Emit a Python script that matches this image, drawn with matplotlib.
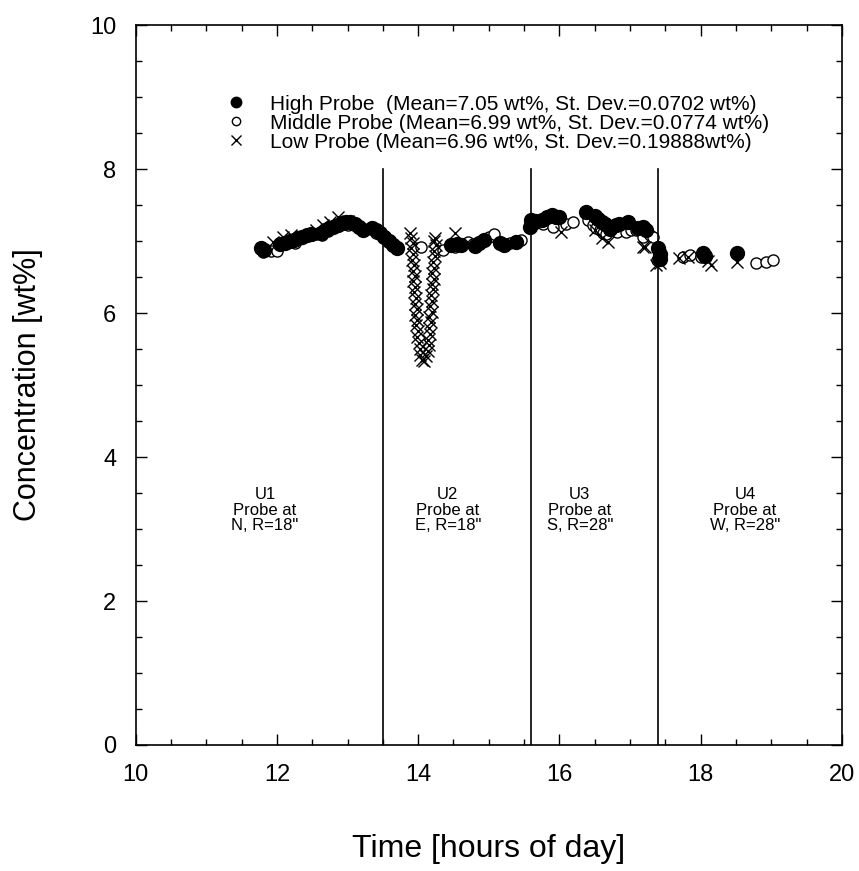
import matplotlib.pyplot as plt

plt.rcParams['font.family'] = ['Liberation Sans', 'DejaVu Sans']

# sampling times [hours of day] and concentrations [wt%]
high_t = [11.78, 11.82, 12.05, 12.12, 12.18, 12.24, 12.30, 12.36, 12.42, 12.48,
          12.62, 12.68, 12.74, 12.80, 12.86, 12.92, 12.98, 13.04, 13.10, 13.16,
          13.22, 13.34, 13.40, 13.46, 13.52, 13.58, 13.64, 13.70,
          14.47, 14.55, 14.60, 14.80, 14.86, 14.93, 15.16, 15.22, 15.39,
          15.58, 15.60, 15.62, 15.66, 15.75, 15.82, 15.89, 15.95, 16.00,
          16.38, 16.50, 16.55, 16.60, 16.64, 16.71, 16.80, 16.85, 16.97,
          17.12, 17.18, 17.23,
          17.40, 17.42, 17.43, 18.04, 18.06, 18.51]
high_c = [6.90, 6.88, 6.96, 6.98, 7.00, 7.02, 7.05, 7.06, 7.08, 7.10,
          7.12, 7.15, 7.18, 7.20, 7.22, 7.25, 7.27, 7.26, 7.24, 7.20,
          7.16, 7.18, 7.15, 7.12, 7.06, 7.00, 6.94, 6.90,
          6.94, 6.96, 6.95, 6.93, 6.97, 7.01, 6.98, 6.95, 6.99,
          7.20, 7.30, 7.25, 7.28, 7.30, 7.34, 7.36, 7.33, 7.34,
          7.41, 7.35, 7.31, 7.27, 7.24, 7.17, 7.22, 7.24, 7.27,
          7.18, 7.20, 7.15,
          6.90, 6.82, 6.75, 6.84, 6.79, 6.83]

mid_t = [11.80, 11.92, 12.00, 12.25, 12.50, 12.56, 12.64, 12.72, 13.00, 13.20, 13.40,
         14.04, 14.35, 14.52, 14.70, 14.78, 15.01, 15.08, 15.30, 15.46,
         15.77, 15.91, 16.10, 16.19, 16.40, 16.47, 16.52, 16.57, 16.62, 16.66,
         16.81, 16.95, 17.02, 17.09, 17.18, 17.28,
         17.33, 17.38, 17.75, 17.85, 18.00, 18.79, 18.93, 19.02]
mid_c = [6.85, 6.86, 6.87, 6.98, 7.08, 7.10, 7.08, 7.14, 7.22, 7.16, 7.12,
         6.92, 6.88, 6.92, 6.99, 6.96, 7.06, 7.10, 6.98, 7.01,
         7.24, 7.20, 7.24, 7.27, 7.29, 7.22, 7.18, 7.15, 7.12, 7.10,
         7.13, 7.13, 7.16, 7.15, 7.06, 7.08,
         7.06, 6.74, 6.78, 6.81, 6.78, 6.69, 6.71, 6.74]

low_t = [11.95, 12.08, 12.20, 12.55, 12.65, 12.75, 12.86, 13.00, 13.25,
         13.88, 13.90, 13.92, 13.90, 13.93, 13.91, 13.94, 13.92, 13.95, 13.93,
         13.96, 13.94, 13.97, 13.95, 13.98, 13.96, 13.99, 13.97, 14.00, 13.98,
         14.01, 14.02, 14.03, 14.05,
         14.08, 14.11, 14.14, 14.16, 14.14, 14.17, 14.15, 14.18, 14.16, 14.19,
         14.17, 14.20, 14.18, 14.21, 14.19, 14.22, 14.20, 14.23, 14.21, 14.24,
         14.22, 14.25, 14.23, 14.24,
         14.52,
         16.03, 16.50, 16.60, 16.69, 17.18,
         17.21, 17.37, 17.42, 17.70, 17.82, 18.10, 18.15, 18.51]
low_c = [6.99, 7.06, 7.08, 7.15, 7.22, 7.27, 7.33, 7.28, 7.20,
         7.12, 7.05, 6.97, 6.90, 6.82, 6.74, 6.67, 6.59, 6.52, 6.44,
         6.36, 6.29, 6.21, 6.13, 6.06, 5.98, 5.90, 5.83, 5.75, 5.67,
         5.59, 5.50, 5.42, 5.35,
         5.33, 5.40, 5.48, 5.56, 5.63, 5.71, 5.79, 5.87, 5.94, 6.02,
         6.10, 6.17, 6.25, 6.33, 6.40, 6.48, 6.56, 6.63, 6.71, 6.79,
         6.86, 6.94, 7.00, 7.05,
         7.11,
         7.13, 7.15, 7.05, 6.99, 6.92,
         6.92, 6.67, 6.70, 6.76, 6.78, 6.72, 6.67, 6.71]

probe_moves = [13.5, 15.6, 17.4]
unit_names = ['U1', 'U2', 'U3', 'U4']
unit_spots = ['N, R=18"', 'E, R=18"', 'S, R=28"', 'W, R=28"']
unit_x = [11.83, 14.42, 16.29, 18.63]

fig = plt.figure(figsize=(8.59, 8.71), dpi=100)
ax = fig.add_axes([0.158, 0.1447, 0.822, 0.8263])

ax.plot(mid_t, mid_c, 'o', mfc='white', mec='black', mew=1.0, ms=8,
        ls='none', label='Middle Probe (Mean=6.99 wt%, St. Dev.=0.0774 wt%)')
ax.plot(low_t, low_c, 'x', color='black', mew=1.0, ms=9,
        ls='none', label='Low Probe (Mean=6.96 wt%, St. Dev.=0.19888wt%)')
ax.plot(high_t, high_c, 'o', color='black', ms=10,
        ls='none', label='High Probe  (Mean=7.05 wt%, St. Dev.=0.0702 wt%)')

for t in probe_moves:
    ax.axvline(t, ymax=0.8, color='black', lw=1.2)

for name, spot, x in zip(unit_names, unit_spots, unit_x):
    ax.text(x, 3.26, f'{name}\nProbe at\n{spot}', ha='center', va='center',
            fontsize=12, linespacing=1.05)

handles, labels = ax.get_legend_handles_labels()
order = [2, 0, 1]
ax.legend([handles[i] for i in order], [labels[i] for i in order],
          loc='upper left', bbox_to_anchor=(0.116, 0.915), frameon=False,
          fontsize=15, handletextpad=1.1, labelspacing=0.0, borderaxespad=0.0,
          handlelength=1.0, markerscale=0.75)

ax.set_xlim(10, 20)
ax.set_ylim(0, 10)
ax.set_xticks([10, 12, 14, 16, 18, 20])
ax.set_xticks([x / 2 for x in range(20, 41)], minor=True)
ax.set_yticks([0, 2, 4, 6, 8, 10])
ax.set_yticks([y / 2 for y in range(0, 21)], minor=True)
ax.tick_params(which='both', direction='in', top=True, right=True,
               labelsize=17, width=1)
ax.tick_params(which='major', length=8, pad=14)
ax.tick_params(which='minor', length=4)
for s in ax.spines.values():
    s.set_linewidth(1.2)

ax.set_xlabel('Time [hours of day]', fontsize=23, labelpad=34)
ax.set_ylabel('Concentration [wt%]', fontsize=22, labelpad=34)

fig.savefig('out.png', dpi=100)
